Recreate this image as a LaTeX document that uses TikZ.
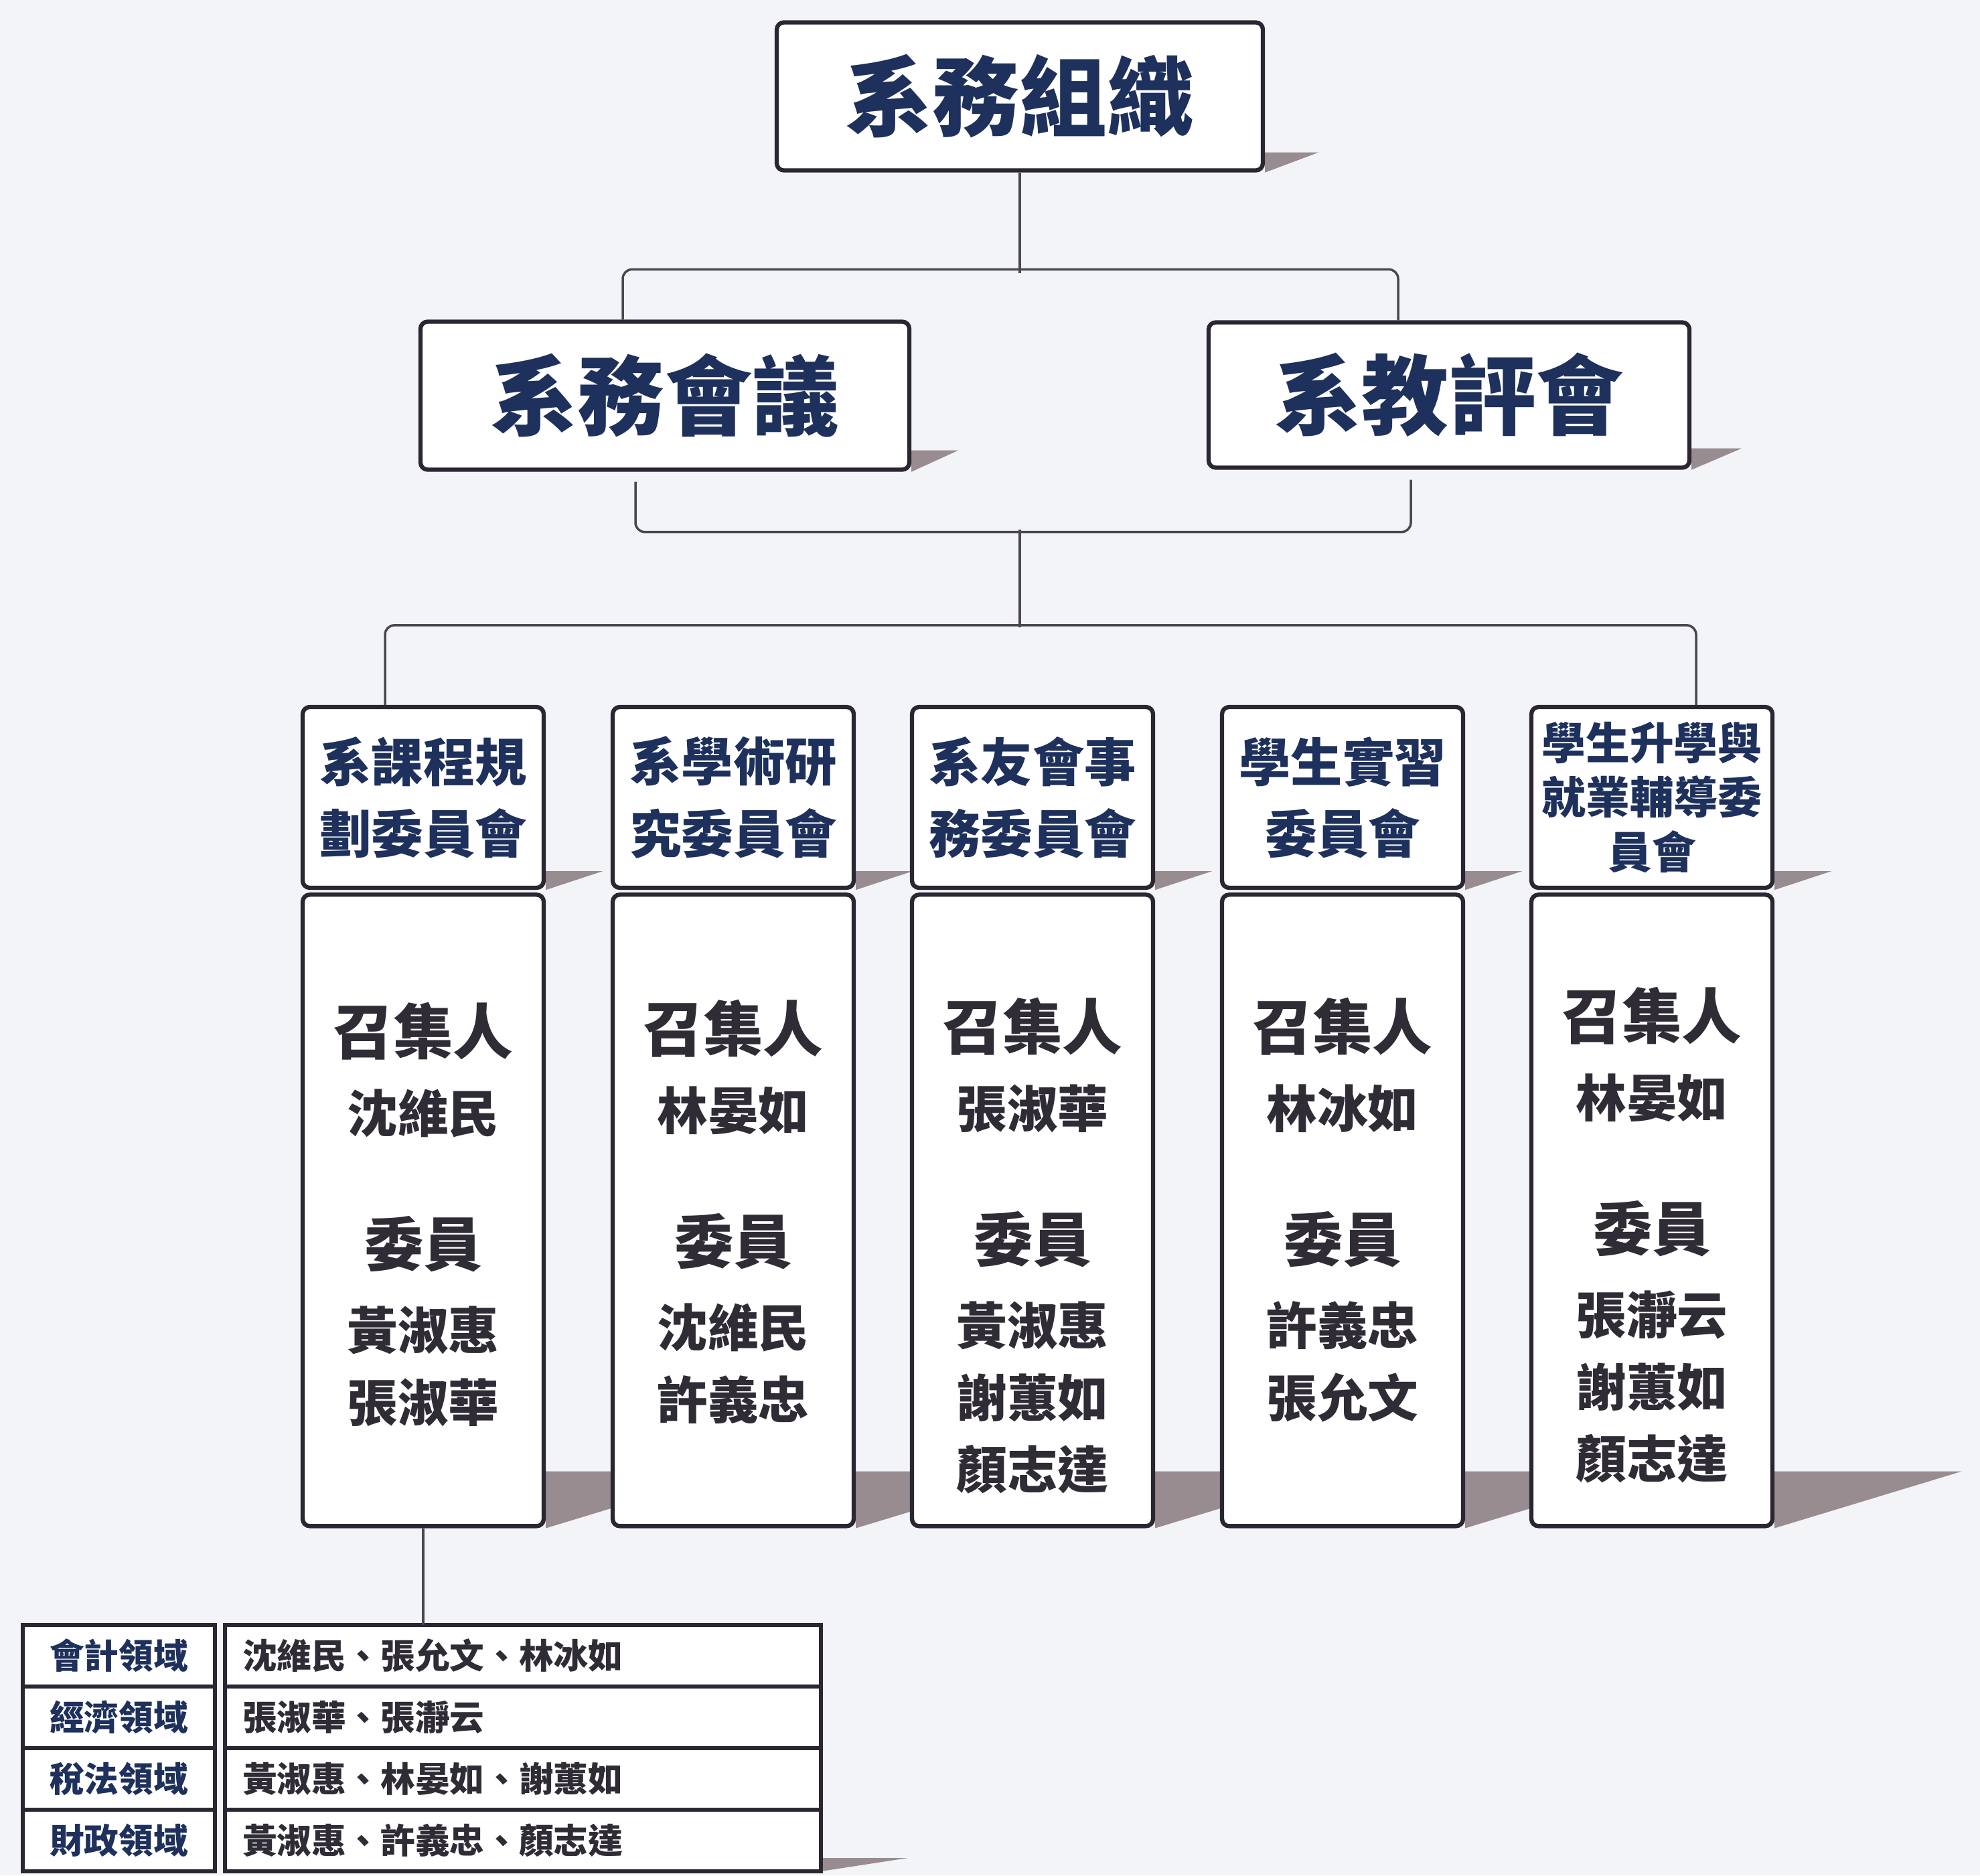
\documentclass[tikz,border=0pt]{standalone}
\usepackage{fontspec}
\usepackage{tikz}
\usetikzlibrary{calc,positioning,backgrounds}
\newfontfamily\cjk{Noto Sans CJK TC}
\definecolor{paper}{RGB}{243,244,247}
\definecolor{frame}{RGB}{42,38,50}
\definecolor{navy}{RGB}{30,48,92}
\definecolor{ink}{RGB}{48,44,54}
\definecolor{shadecol}{RGB}{152,140,144}
\pgfdeclarelayer{shadow}
\pgfsetlayers{background,shadow,main}
\tikzset{%
	unit/.style       = {draw=frame, line width=1.8pt, rounded corners=3pt, fill=white, align=center, inner sep=0pt},
	headbox/.style    = {unit, text=navy, font=\cjk\bfseries\fontsize{37}{40}\selectfont},
	committee/.style  = {unit, minimum width=3.6cm, minimum height=2.7cm, text=navy, font=\cjk\bfseries\fontsize{22}{30.5}\selectfont},
	rosterbox/.style  = {unit, minimum width=3.6cm, minimum height=9.43cm},
	rostertext/.style = {align=center, inner sep=0pt, anchor=north, text=ink, font=\cjk\bfseries\fontsize{21.5}{30.6}\selectfont},
	field/.style      = {draw=frame, line width=1.5pt, fill=white, minimum height=0.92cm, inner sep=0pt, outer sep=0pt, anchor=north, font=\cjk\bfseries\fontsize{14.7}{16}\selectfont},
	key/.style        = {field, text=navy, minimum width=2.87cm},
	value/.style      = {field, text=ink, text width=8.38cm, inner xsep=0.26cm, align=left},
	link/.style       = {draw=frame!85, line width=1pt, rounded corners=4pt},
	shadefill/.style  = {fill=shadecol},
}
% grey wedge under the right end of a box
\newcommand{\castshadow}[3]{%
	\fill[shadefill] ($(#1.south east)+(0,#2)$) -- ++(#3,0) -- (#1.south east) -- cycle;}
\newcommand{\zhaoji}{{\fontsize{25.5}{30.6}\selectfont 召集人}}
\newcommand{\weiyuan}{{\fontsize{25}{30.6}\selectfont 委員}}
\newcommand{\roster}[2]{\zhaoji\\[2.7pt]#1\\[26.3pt]\weiyuan\\[4.8pt]#2}

\begin{document}
\begin{tikzpicture}
	\begin{pgfonlayer}{background}
		\fill[paper] (0,0) rectangle (29.57,-28.01);
	\end{pgfonlayer}
	\useasboundingbox (0,0) rectangle (29.57,-28.01);

	% top levels
	\node [headbox, minimum width=7.26cm, minimum height=2.21cm] (dept) at (15.23,-1.44) {系務組織};
	\node [headbox, minimum width=7.30cm, minimum height=2.21cm] (meeting) at (9.93,-5.91) {系務會議};
	\node [headbox, minimum width=7.18cm, minimum height=2.17cm] (review) at (21.64,-5.90) {系教評會};

	% committees
	\node [committee] (c1) at (6.32,-11.91) {系課程規\\劃委員會};
	\node [committee] (c2) at (10.95,-11.91) {系學術研\\究委員會};
	\node [committee] (c3) at (15.42,-11.91) {系友會事\\務委員會};
	\node [committee] (c4) at (20.05,-11.91) {學生實習\\委員會};
	\node [committee, font=\cjk\bfseries\fontsize{18.7}{23.3}\selectfont] (c5) at (24.67,-11.91) {學生升學與\\就業輔導委\\員會};
	\foreach \i in {1,...,5}
		\node [rosterbox, below=0.04cm of c\i] (r\i) {};

	\node [rostertext] (m1) at ($(r1.north)+(0,-1.63)$) {\roster{沈維民}{黃淑惠\\張淑華}};
	\node [rostertext] (m2) at ($(r2.north)+(0,-1.59)$) {\roster{林晏如}{沈維民\\許義忠}};
	\node [rostertext] (m3) at ($(r3.north)+(0,-1.56)$) {\roster{張淑華}{黃淑惠\\謝蕙如\\顏志達}};
	\node [rostertext] (m4) at ($(r4.north)+(0,-1.56)$) {\roster{林冰如}{許義忠\\張允文}};
	\node [rostertext] (m5) at ($(r5.north)+(0,-1.40)$) {\roster{林晏如}{張瀞云\\謝蕙如\\顏志達}};

	% fields table
	\node [key] (k1) at (1.775,-24.27) {會計領域};
	\node [key] (k2) at (k1.south) {經濟領域};
	\node [key] (k3) at (k2.south) {稅法領域};
	\node [key] (k4) at (k3.south) {財政領域};
	\node [value] (v1) at (7.81,-24.27) {沈維民、張允文、林冰如};
	\node [value] (v2) at (v1.south) {張淑華、張瀞云};
	\node [value] (v3) at (v2.south) {黃淑惠、林晏如、謝蕙如};
	\node [value] (v4) at (v3.south) {黃淑惠、許義忠、顏志達};

	% connectors
	\coordinate (hubA) at ($(dept.south)+(0,-1.5)$);
	\coordinate (hubB) at (15.23,-7.915);
	\coordinate (hubC) at (15.23,-9.37);
	\draw[link] (dept.south) -- (hubA);
	\draw[link] ($(meeting.north)+(-0.63,0)$) |- ($(review.north)+(-0.76,0.76)$) -- ($(review.north)+(-0.76,0)$);
	\draw[link] ($(meeting.south)+(-0.44,-0.15)$) |- ($(review.south)+(-0.57,-0.93)$) -- ($(review.south)+(-0.57,-0.15)$);
	\draw[link] (hubB) -- (hubC);
	\draw[link] ($(c1.north)+(-0.57,0)$) |- ($(c5.north)+(0.66,1.19)$) -- ($(c5.north)+(0.66,0)$);
	\draw[link] (r1.south) -- (r1.south |- v1.north);

	\begin{pgfonlayer}{shadow}
		\castshadow{dept}{0.3}{0.8}
		\castshadow{meeting}{0.32}{0.7}
		\castshadow{review}{0.32}{0.75}
		\foreach \i in {1,...,5} {
			\castshadow{c\i}{0.28}{0.85}
			\castshadow{r\i}{0.85}{2.8}
		}
		\castshadow{v4}{0.2}{1.3}
	\end{pgfonlayer}
\end{tikzpicture}
\end{document}
